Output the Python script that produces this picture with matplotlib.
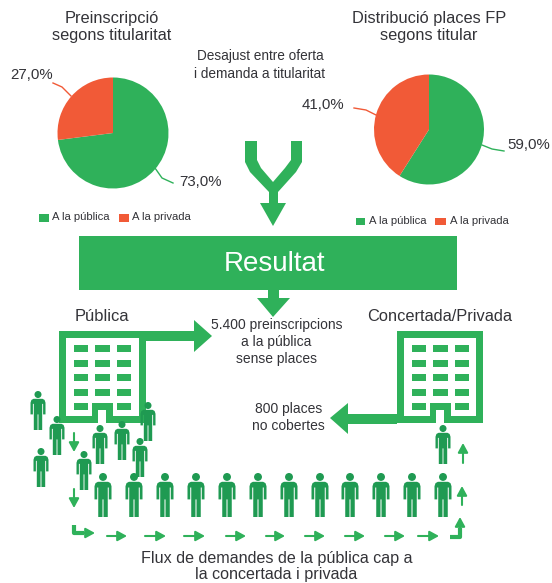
import matplotlib
matplotlib.use('Agg')
import matplotlib.pyplot as plt
from matplotlib.patches import Polygon, Rectangle, Circle

plt.rcParams['font.family'] = ['Liberation Sans', 'DejaVu Sans']

GREEN = '#2fb15a'
DARK = '#1f9a52'
RED = '#f15a37'
TEXT = '#333338'

W, H = 552, 583

# data
series_names = ['A la pública', 'A la privada']
preinscripcio = [73.0, 27.0]
places_fp = [59.0, 41.0]

# people, (centre x, top y)
small_people = [(38, 391), (57, 416), (41, 448), (100, 425), (122, 421),
                (148, 402), (140, 438), (84, 451), (443, 425)]
big_people = [103, 134, 165, 196, 227, 258, 289, 320, 350, 381, 412, 443]

# little arrows along the flow
flow_right = [(107, 127), (145, 166), (184, 205), (226, 246), (266, 285),
              (305, 325), (345, 365), (385, 405), (418, 439)]
flow_down = [(433, 452), (489, 508)]
flow_up = [(462, 505, 486), (463, 463, 443)]

fig = plt.figure(figsize=(W / 100, H / 100), dpi=100)
ax = fig.add_axes([0, 0, 1, 1])
ax.set_xlim(0, W)
ax.set_ylim(H, 0)
ax.axis('off')


def label(x, y, s, size=10, color=TEXT, ha='center'):
    ax.text(x, y + 1, s, fontsize=size, color=color, ha=ha, va='center')


def pie(cx, cy, r, values):
    a = fig.add_axes([(cx - r) / W, 1 - (cy + r) / H, 2 * r / W, 2 * r / H])
    a.pie(values, colors=[GREEN, RED], startangle=90, counterclock=False, radius=1)
    a.set_xlim(-1, 1)
    a.set_ylim(-1, 1)


def pct(v):
    return f'{v:.1f}%'.replace('.', ',')


def poly(points, color=GREEN):
    ax.add_patch(Polygon(points, closed=True, fc=color, ec='none'))


def rect(x0, y0, x1, y1, color=GREEN):
    ax.add_patch(Rectangle((x0, y0), x1 - x0, y1 - y0, fc=color, ec='none'))


def person(cx, top, w, h):
    body = [(-.3, .2), (.3, .2), (.44, .23), (.5, .3), (.5, .6), (.34, .6), (.34, .33), (.28, .33),
            (.28, 1), (.03, 1), (.03, .6), (-.03, .6), (-.03, 1), (-.28, 1), (-.28, .33),
            (-.34, .33), (-.34, .6), (-.5, .6), (-.5, .3), (-.44, .23)]
    poly([(cx + px * w, top + py * h) for px, py in body], DARK)
    ax.add_patch(Circle((cx, top + .09 * h), .09 * h, fc=DARK, ec='none'))


def building(x0, y0, x1, y1):
    wall = 7
    rect(x0, y0, x1, y1)
    rect(x0 + wall, y0 + wall, x1 - wall, y1 - 7, 'white')
    rows = [345, 359.5, 374, 388.5, 402.5]
    cols = [x0 + 14.5, x0 + 36, x0 + 57.5]
    for r in rows:
        for c in cols:
            rect(c, r, c + 14.5, r + 7)
    # door
    dx = cols[1] + 7.25
    rect(dx - 10.5, 402.5, dx + 10.5, 417)
    rect(dx - 4, 409.5, dx + 4, 423.5, 'white')
    rect(dx - 10.5, 416, dx - 4, 423)
    rect(dx + 4, 416, dx + 10.5, 423)


def small_arrow(x0, y0, x1, y1):
    ax.annotate('', xy=(x1, y1), xytext=(x0, y0),
                arrowprops=dict(arrowstyle='-|>,head_length=0.55,head_width=0.3',
                                color=GREEN, lw=1.5, shrinkA=0, shrinkB=0))


# pies
pie(113, 133, 55.5, preinscripcio)
pie(429, 129.5, 55, places_fp)

ax.plot([155, 162, 173], [168, 178, 183], color=GREEN, lw=1)
ax.plot([53, 62, 71], [83, 87, 96], color=RED, lw=1)
ax.plot([482, 492, 504], [145, 149, 151], color=GREEN, lw=1)
ax.plot([354, 366, 376], [108, 110, 115], color=RED, lw=1)

label(31.7, 74, pct(preinscripcio[1]), 10.8)
label(201, 181, pct(preinscripcio[0]), 10.8)
label(323, 104, pct(places_fp[1]), 10.8)
label(528.7, 144, pct(places_fp[0]), 10.8)

label(112, 17.5, 'Preinscripció', 11.8)
label(112, 34.5, 'segons titularitat', 11.8)
label(429, 17, 'Distribució places FP', 11.8)
label(429, 34.5, 'segons titular', 11.8)
label(260, 55, 'Desajust entre oferta', 9.85)
label(260, 72.5, 'i demanda a titularitat', 9.85)

# legends
rect(39, 214, 49, 222)
label(52, 216, series_names[0], 8.1, ha='left')
rect(119, 214, 129, 222, RED)
label(132, 216, series_names[1], 8.1, ha='left')
rect(356, 218, 365, 225)
label(369, 219.5, series_names[0], 8.1, ha='left')
rect(435, 218, 446, 225, RED)
label(450, 219.5, series_names[1], 8.1, ha='left')

# merging arrow
poly([(245, 141), (257, 141), (257, 160), (261, 168), (273, 182), (285, 168), (291, 160), (291, 141),
      (302, 141), (302, 162), (296, 172), (278, 192), (278, 203), (286, 203), (273, 226), (260, 203),
      (269, 203), (269, 192), (250, 172), (245, 162)])

# result box
rect(79, 236, 457, 290)
label(274, 263, 'Resultat', 20, color='white')
poly([(268, 290), (279, 290), (279, 298), (290, 298), (273, 317), (257, 298), (268, 298)])

# buildings
label(102, 315.5, 'Pública', 11.9)
building(59, 331, 146, 423)
poly([(146, 331), (194, 331), (194, 320), (212, 336), (194, 352), (194, 341), (146, 341)])
label(276.5, 324.5, '5.400 preinscripcions', 10)
label(276.5, 341, 'a la pública', 10)
label(276.5, 357.5, 'sense places', 10)

label(439.5, 315.5, 'Concertada/Privada', 11.75)
building(397, 331, 483, 423)
poly([(397, 414), (348, 414), (348, 403), (330, 418), (348, 434), (348, 424), (397, 424)])
label(288.5, 407.5, '800 places', 10)
label(288.5, 424.5, 'no cobertes', 10)

# people
for cx, top in small_people:
    person(cx, top, 15, 39)
for cx in big_people:
    person(cx, 473, 17, 44)

# flow arrows
for x0, x1 in flow_right:
    small_arrow(x0, 536, x1, 536)
for y0, y1 in flow_down:
    small_arrow(74, y0, 74, y1)
for x, y0, y1 in flow_up:
    small_arrow(x, y0, x, y1)
ax.plot([74, 74, 84], [525, 533, 533], color=GREEN, lw=3, solid_capstyle='butt')
small_arrow(82, 533, 95, 533)
ax.plot([450, 460, 460], [537, 537, 528], color=GREEN, lw=3, solid_capstyle='butt')
small_arrow(460, 530, 460, 517)

label(276.5, 557.5, 'Flux de demandes de la pública cap a', 11.6)
label(276.5, 574, 'la concertada i privada', 11.6)

fig.savefig('out.png', dpi=100)
